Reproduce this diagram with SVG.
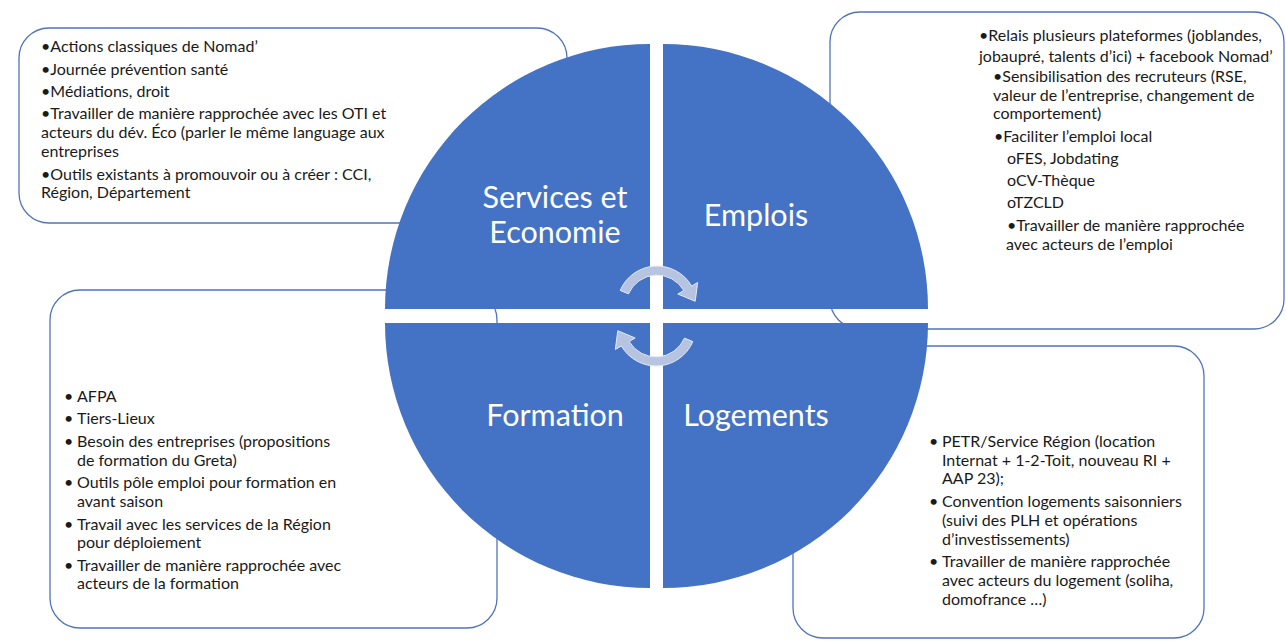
<svg xmlns="http://www.w3.org/2000/svg" width="1286" height="642" viewBox="0 0 1286 642">
<defs>
<style>
.box{fill:#ffffff;stroke:#5274b9;stroke-width:1.3}
.q{fill:#4472c4}
.t{font-family:Lato,"Liberation Sans",sans-serif;font-size:16px;fill:#1a1a1a}
.lbl{font-family:Lato,"Liberation Sans",sans-serif;font-size:30.5px;fill:#ffffff;text-anchor:middle}
.arr{fill:#b6c4e2;stroke:#e3e9f5;stroke-width:1}
</style>
</defs>
<rect width="1286" height="642" fill="#ffffff"/>
<g id="box-services">
<rect class="box" x="19" y="28" width="548" height="195" rx="30"/>
<text class="t" x="41" y="52">•Actions classiques de Nomad’</text>
<text class="t" x="41" y="74.5">•Journée prévention santé</text>
<text class="t" x="41" y="96.5">•Médiations, droit</text>
<text class="t" x="41" y="118.5">•Travailler de manière rapprochée avec les OTI et</text>
<text class="t" x="41" y="138">acteurs du dév. Éco (parler le même language aux</text>
<text class="t" x="41" y="157">entreprises</text>
<text class="t" x="41" y="179.5">•Outils existants à promouvoir ou à créer : CCI,</text>
<text class="t" x="41" y="198">Région, Département</text>
</g>
<g id="box-emplois">
<rect class="box" x="830" y="12" width="454" height="317" rx="30"/>
<text class="t" x="979" y="41">•Relais plusieurs plateformes (joblandes,</text>
<text class="t" x="979" y="62">jobaupré, talents d’ici) + facebook Nomad’</text>
<text class="t" x="993" y="82">•Sensibilisation des recruteurs (RSE,</text>
<text class="t" x="993" y="101">valeur de l’entreprise, changement de</text>
<text class="t" x="993" y="119">comportement)</text>
<text class="t" x="994" y="142">•Faciliter l’emploi local</text>
<text class="t" x="1007" y="164">oFES, Jobdating</text>
<text class="t" x="1007" y="186">oCV-Thèque</text>
<text class="t" x="1007" y="208">oTZCLD</text>
<text class="t" x="1007" y="231">•Travailler de manière rapprochée</text>
<text class="t" x="1006" y="250">avec acteurs de l’emploi</text>
</g>
<g id="box-formation">
<rect class="box" x="50" y="290" width="447" height="338" rx="30"/>
<g class="t">
<text x="64" y="402">•</text><text x="77" y="402">AFPA</text>
<text x="64" y="424">•</text><text x="77" y="424">Tiers-Lieux</text>
<text x="64" y="447">•</text><text x="77" y="447">Besoin des entreprises (propositions</text>
<text x="77" y="466">de formation du Greta)</text>
<text x="64" y="488">•</text><text x="77" y="488">Outils pôle emploi pour formation en</text>
<text x="77" y="507">avant saison</text>
<text x="64" y="530">•</text><text x="77" y="530">Travail avec les services de la Région</text>
<text x="77" y="548">pour déploiement</text>
<text x="64" y="571">•</text><text x="77" y="571">Travailler de manière rapprochée avec</text>
<text x="77" y="589">acteurs de la formation</text>
</g>
</g>
<g id="box-logements">
<rect class="box" x="793" y="346" width="411" height="292" rx="30"/>
<g class="t">
<text x="929" y="447">•</text><text x="942" y="447">PETR/Service Région (location</text>
<text x="942" y="466">Internat + 1-2-Toit, nouveau RI +</text>
<text x="942" y="484">AAP 23);</text>
<text x="929" y="507">•</text><text x="942" y="507">Convention logements saisonniers</text>
<text x="942" y="526">(suivi des PLH et opérations</text>
<text x="942" y="545">d’investissements)</text>
<text x="929" y="567">•</text><text x="942" y="567">Travailler de manière rapprochée</text>
<text x="942" y="586">avec acteurs du logement (soliha,</text>
<text x="942" y="605">domofrance …)</text>
</g>
</g>
<g id="q-services">
<path class="q" d="M650 309 L385 309 A265 265 0 0 1 650 44 Z"/>
<text class="lbl" x="555" y="208">Services et</text>
<text class="lbl" x="555" y="243">Economie</text>
</g>
<g id="q-emplois">
<path class="q" d="M663 309 L663 44 A265 265 0 0 1 928 309 Z"/>
<text class="lbl" x="756" y="226">Emplois</text>
</g>
<g id="q-formation">
<path class="q" d="M650 323 L650 588 A265 265 0 0 1 385 323 Z"/>
<text class="lbl" x="555" y="426">Formation</text>
</g>
<g id="q-logements">
<path class="q" d="M663 323 L928 323 A265 265 0 0 1 663 588 Z"/>
<text class="lbl" x="756" y="426">Logements</text>
</g>
<g id="connectors">
<path id="arrow-top" class="arr" d="M620.2 290.4 A40 40 0 0 1 691.6 286 L697.7 282.5 L695.2 301.3 L677.8 294 L683.8 290.5 A31 31 0 0 0 628.5 293.9 Z"/>
<path id="arrow-bottom" class="arr" transform="rotate(180 656.5 316)" d="M620.2 290.4 A40 40 0 0 1 691.6 286 L697.7 282.5 L695.2 301.3 L677.8 294 L683.8 290.5 A31 31 0 0 0 628.5 293.9 Z"/>
</g>
</svg>
